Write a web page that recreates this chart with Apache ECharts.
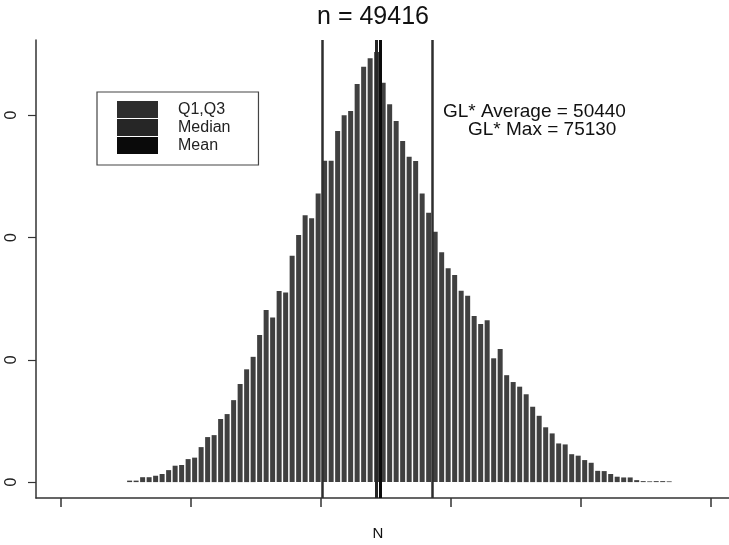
<!DOCTYPE html>
<html style="height: 100%">
<head>
  <meta charset="utf-8">
  <title>Histogram of N</title>
  <script src="https://cdn.jsdelivr.net/npm/echarts@6.0.0/dist/echarts.min.js"></script>
</head>
<body style="margin:0;height:100%;background:#fff">
  <div id="main" style="width:729px;height:545px"></div>
  <script>
    // histogram bins: centre of first bin and bin width (x units, tick every 100)
    var binStart = 53;
    var binWidth = 5;
    var counts = [
      6, 6, 20, 20, 26, 33, 49, 67, 70, 94, 100, 143, 184, 192, 258, 278, 335, 401, 461, 512, 601,
      703, 673, 781, 775, 925, 1010, 1091, 1078, 1180, 1313, 1313, 1435, 1499, 1517, 1627, 1698, 1732, 1758, 1632, 1544, 1476,
      1394, 1330, 1312, 1180, 1101, 1023, 939, 874, 846, 782, 762, 679, 646, 662, 506, 544, 437, 409, 390, 359, 308,
      271, 224, 199, 158, 154, 114, 108, 90, 79, 46, 45, 33, 22, 19, 19, 8, 4, 3, 4, 4, 3
    ];
    var quartiles = [200.8, 285.8];
    var median = 242.8;
    var mean = 245.5;
    var xTicks = [0, 100, 200, 300, 400, 500];
    var yTicks = [0, 500, 1000, 1500];
    var notes = ['GL* Average = 50440', 'GL* Max = 75130'];

    var FONT = '"Liberation Sans", Arial, Helvetica, sans-serif';
    var chart = echarts.init(document.getElementById('main'));

    var bars = counts.map(function (c, i) { return [binStart + i * binWidth, c]; });

    function vline(name, color, values, width) {
      return {
        name: name,
        type: 'line',
        data: [],
        itemStyle: { color: color },
        lineStyle: { color: color },
        markLine: {
          silent: true,
          symbol: 'none',
          label: { show: false },
          lineStyle: { color: color, width: width, type: 'solid' },
          data: values.map(function (v) { return { xAxis: v }; })
        }
      };
    }

    chart.setOption({
      animation: false,
      grid: { left: 36, right: 0, top: 40, bottom: 47 },
      xAxis: {
        type: 'value',
        min: -19,
        max: 514,
        axisLine: { onZero: false, lineStyle: { color: '#333', width: 1.5 } },
        axisTick: { customValues: xTicks, length: 9, lineStyle: { color: '#333', width: 1.5 } },
        axisLabel: { show: false },
        splitLine: { show: false }
      },
      yAxis: {
        type: 'value',
        min: -65,
        max: 1807,
        axisLine: { show: true, onZero: false, lineStyle: { color: '#333', width: 1.5 } },
        axisTick: { show: true, customValues: yTicks, length: 8, lineStyle: { color: '#333', width: 1.2 } },
        axisLabel: {
          customValues: yTicks,
          rotate: 90,
          margin: 16,
          fontSize: 16,
          fontFamily: FONT,
          color: '#222',
          formatter: function () { return '0'; }
        },
        splitLine: { show: false }
      },
      legend: {
        orient: 'vertical',
        left: 97,
        top: 92,
        selectedMode: false,
        icon: 'rect',
        itemWidth: 41,
        itemHeight: 17,
        itemGap: 1,
        padding: [9, 28, 11, 20],
        borderColor: '#444',
        borderWidth: 1.2,
        textStyle: { fontSize: 16, fontFamily: FONT, color: '#222', padding: [0, 0, 0, 15], lineHeight: 17 },
        data: ['Q1,Q3', 'Median', 'Mean']
      },
      graphic: [
        { type: 'text', style: { text: 'n = 49416', x: 373, y: 17, textAlign: 'center', textVerticalAlign: 'middle', font: '25px ' + FONT, fill: '#111' } },
        { type: 'text', style: { text: notes[0], x: 443, y: 112, textVerticalAlign: 'middle', font: '19px ' + FONT, fill: '#111' } },
        { type: 'text', style: { text: notes[1], x: 468, y: 130, textVerticalAlign: 'middle', font: '19px ' + FONT, fill: '#111' } },
        { type: 'text', style: { text: 'N', x: 378, y: 534, textAlign: 'center', textVerticalAlign: 'middle', font: '15px ' + FONT, fill: '#111' } }
      ],
      series: [
        {
          type: 'bar',
          data: bars,
          barWidth: 5,
          itemStyle: { color: '#404040' },
          silent: true
        },
        vline('Q1,Q3', '#2e2e2e', quartiles, 2.5),
        vline('Median', '#262626', [median], 3),
        vline('Mean', '#0a0a0a', [mean], 3)
      ]
    });
  </script>
</body>
</html>
